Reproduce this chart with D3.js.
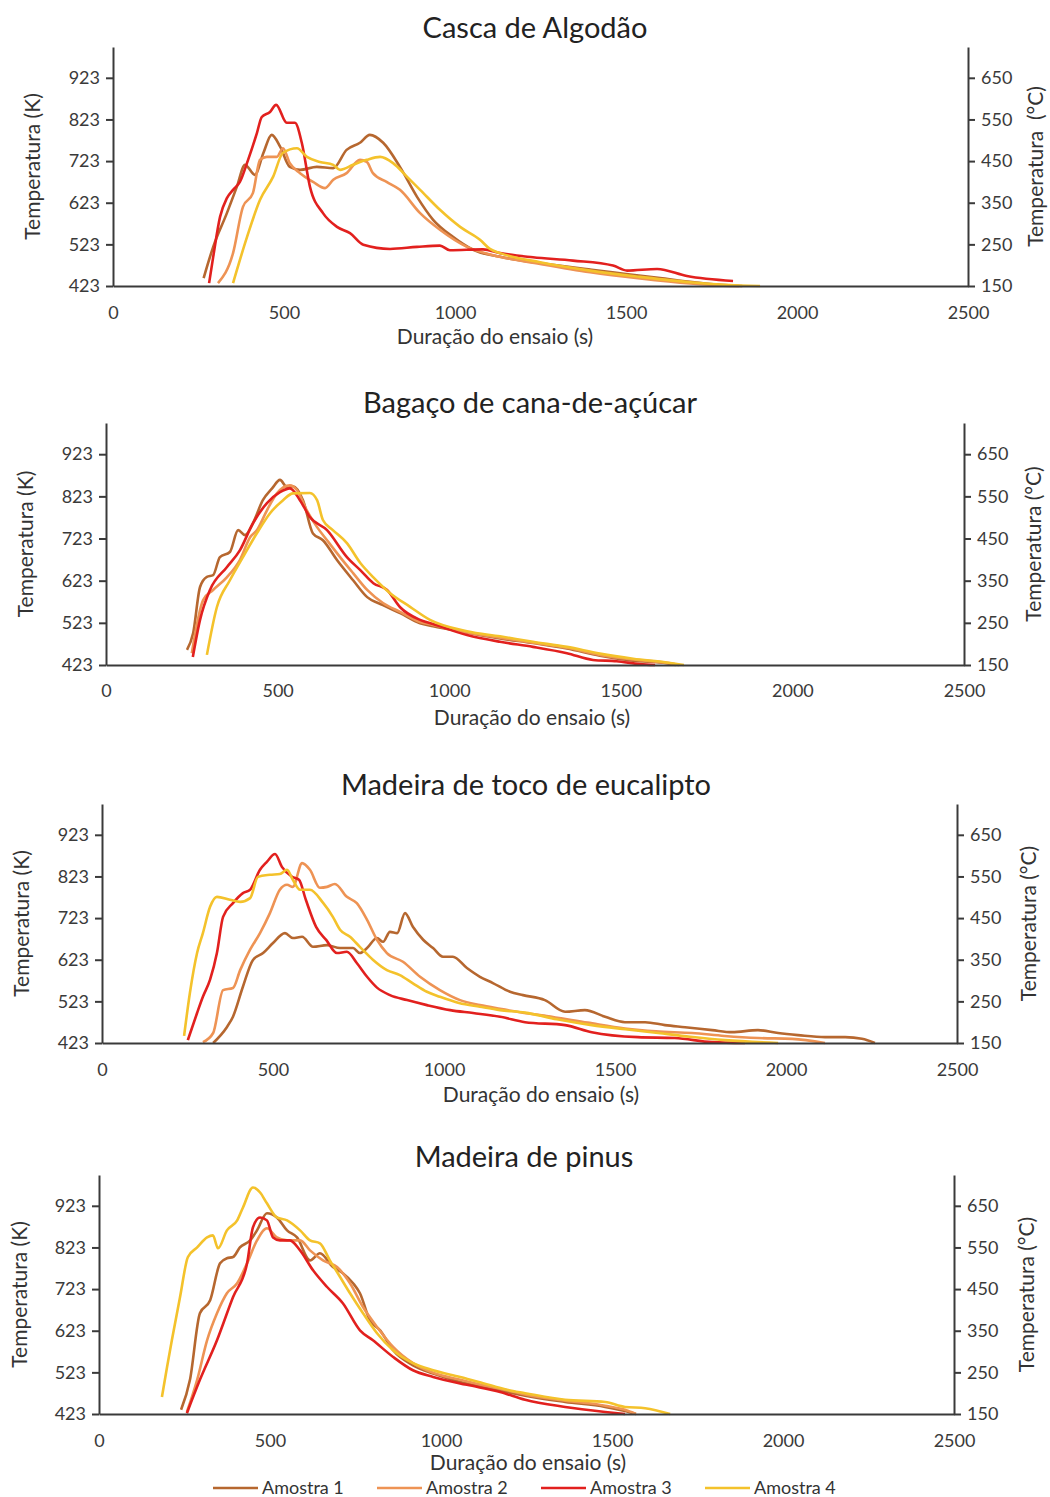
<!DOCTYPE html>
<html>
<head>
<meta charset="utf-8">
<script src="https://cdn.jsdelivr.net/npm/d3@7"></script>
<style>
  body { margin: 0; background: #fff; }
  svg { font-family: Lato, 'Open Sans', sans-serif; }
  .axis path, .axis line { stroke: #3a3a3a; stroke-width: 2; }
  .axis text { fill: #3a3a3a; font-size: 18px; font-family: Lato, sans-serif; }
</style>
</head>
<body>
<script>
// chart titles and tick values
var panelTitles = ['Casca de Algodão', 'Bagaço de cana-de-açúcar', 'Madeira de toco de eucalipto', 'Madeira de pinus'];
var xTicks = [0, 500, 1000, 1500, 2000, 2500];
var kTicks = [423, 523, 623, 723, 823, 923];
var cTicks = [150, 250, 350, 450, 550, 650];
var sampleNames = ['Amostra 1', 'Amostra 2', 'Amostra 3', 'Amostra 4'];

// [tempo (s), temperatura (K)]
var algodao1 = [[265,442],[293,517],[333,598],[362,661],[386,714],[415,690],[440,743],[464,786],[489,757],[517,709],[547,702],[596,709],[644,706],[683,750],[722,767],[751,786],[790,767],[839,709],[889,637],[936,582],[994,541],[1053,510],[1132,493],[1250,478],[1400,462],[1500,452],[1600,442],[1700,432],[1790,425],[1840,423]];
var algodao2 = [[307,430],[351,502],[380,613],[409,646],[430,726],[450,733],[479,733],[497,754],[517,718],[547,694],[585,673],[620,658],[644,678],[683,694],[722,726],[742,721],[760,694],[800,673],[839,654],[898,598],[956,558],[1035,517],[1111,497],[1249,476],[1395,456],[1541,441],[1687,429],[1784,424],[1830,423]];
var algodao3 = [[281,430],[293,493],[313,589],[333,634],[351,654],[371,673],[395,726],[421,791],[435,829],[459,841],[477,858],[508,815],[532,815],[552,767],[576,661],[614,598],[655,565],[693,550],[732,522],[810,512],[889,517],[956,520],[985,509],[1082,511],[1132,502],[1228,492],[1345,484],[1462,472],[1503,460],[1591,464],[1678,447],[1813,435]];
var algodao4 = [[351,430],[392,541],[430,630],[468,685],[497,743],[538,754],[567,733],[605,721],[644,714],[664,702],[702,714],[742,726],[781,733],[819,718],[860,685],[898,654],[956,606],[1015,565],[1073,534],[1102,512],[1132,502],[1249,480],[1395,460],[1541,445],[1687,432],[1784,426],[1892,423]];

var bagaco1 = [[236,459],[254,499],[274,608],[294,632],[312,636],[332,679],[361,691],[385,743],[405,731],[428,759],[457,814],[484,842],[507,862],[527,845],[545,847],[574,814],[603,735],[632,719],[673,672],[720,624],[761,584],[807,565],[857,546],[915,522],[953,515],[1052,500],[1148,486],[1244,475],[1343,462],[1439,445],[1536,433],[1634,427],[1660,423]];
var bagaco2 = [[250,451],[283,577],[312,601],[352,631],[390,672],[420,726],[440,743],[469,790],[498,830],[536,849],[556,838],[585,790],[615,750],[644,719],[682,679],[720,641],[761,601],[807,570],[857,549],[915,525],[953,518],[1052,500],[1148,488],[1244,476],[1343,464],[1439,447],[1536,436],[1634,428],[1670,423]];
var bagaco3 = [[253,442],[274,530],[303,601],[352,655],[390,695],[428,759],[469,807],[507,833],[536,842],[565,814],[594,774],[644,743],[702,679],[741,648],[779,617],[819,601],[857,560],[915,530],[953,520],[1052,494],[1148,478],[1244,466],[1343,451],[1419,435],[1488,432],[1556,425],[1600,423]];
var bagaco4 = [[294,447],[323,560],[361,624],[399,679],[440,736],[478,783],[516,814],[545,830],[594,831],[615,814],[632,767],[661,743],[702,712],[741,665],[779,631],[827,594],[886,561],[944,530],[1052,503],[1148,491],[1244,478],[1343,466],[1439,450],[1536,438],[1634,429],[1684,423]];

var eucalipto1 = [[325,423],[365,461],[383,486],[412,558],[441,622],[471,639],[500,663],[535,687],[558,675],[585,678],[617,654],[658,658],[696,651],[734,651],[754,639],[775,651],[804,675],[822,666],[842,690],[863,687],[886,735],[909,702],[939,671],[968,651],[997,630],[1026,630],[1067,603],[1105,582],[1143,567],[1193,546],[1231,538],[1295,526],[1354,498],[1412,502],[1471,486],[1529,473],[1588,473],[1646,466],[1705,461],[1784,454],[1842,449],[1918,454],[1977,447],[2035,442],[2114,437],[2173,437],[2222,433],[2260,423]];
var eucalipto2 = [[295,425],[325,447],[354,550],[383,555],[404,598],[433,647],[462,687],[491,735],[520,791],[541,803],[558,798],[585,855],[608,839],[637,796],[658,798],[681,805],[716,774],[745,759],[775,719],[804,671],[833,639],[880,618],[930,582],[988,550],[1047,526],[1105,514],[1164,505],[1222,497],[1300,488],[1420,472],[1529,458],[1620,451],[1725,447],[1820,440],[1918,435],[2018,433],[2114,423]];
var eucalipto3 = [[251,430],[278,495],[295,534],[316,575],[336,639],[354,726],[383,759],[412,783],[433,791],[462,839],[482,858],[506,877],[526,846],[556,822],[576,815],[596,767],[626,702],[656,670],[687,639],[716,642],[745,615],[775,582],[804,556],[842,538],[892,526],[950,514],[1018,502],[1085,495],[1164,486],[1237,473],[1354,466],[1432,449],[1567,437],[1675,435],[1784,425],[1880,423]];
var eucalipto4 = [[240,440],[257,543],[278,639],[295,687],[316,750],[336,774],[374,767],[404,762],[433,771],[456,822],[491,827],[520,829],[541,839],[558,815],[579,791],[608,791],[646,760],[675,726],[696,695],[725,678],[754,654],[792,623],[833,598],[871,586],[908,567],[950,546],[988,534],[1044,519],[1105,510],[1164,502],[1237,496],[1330,480],[1432,466],[1530,456],[1626,447],[1720,438],[1822,430],[1977,423]];

var pinus1 = [[240,433],[266,505],[295,665],[325,696],[354,785],[374,797],[392,800],[412,823],[442,840],[462,864],[491,905],[520,895],[550,864],[579,847],[617,792],[646,809],[684,776],[713,761],[743,737],[763,713],[792,648],[822,624],[860,576],[918,540],[977,520],[1056,500],[1123,488],[1193,476],[1246,467],[1363,452],[1480,440],[1538,430],[1570,423]];
var pinus2 = [[257,428],[287,505],[316,600],[345,665],[374,713],[404,737],[433,785],[462,840],[491,869],[520,847],[550,840],[588,840],[617,816],[655,792],[696,776],[734,737],[772,680],[813,632],[860,584],[918,545],[977,522],[1056,505],[1123,492],[1193,480],[1246,470],[1363,455],[1480,443],[1538,433],[1570,423]];
var pinus3 = [[257,425],[295,505],[345,600],[392,704],[433,785],[450,871],[471,895],[491,888],[509,847],[529,840],[558,840],[588,816],[626,768],[667,728],[713,689],[763,624],[801,600],[860,560],[918,528],[977,512],[1076,493],[1173,476],[1246,457],[1363,440],[1480,428],[1538,423]];
var pinus4 = [[184,464],[199,536],[213,600],[237,704],[260,800],[287,823],[316,847],[333,852],[348,821],[374,864],[404,888],[421,919],[450,967],[471,955],[491,929],[520,895],[550,888],[588,864],[617,840],[646,833],[675,792],[705,752],[734,713],[772,665],[813,617],[860,576],[918,545],[977,528],[1056,512],[1123,497],[1193,481],[1246,473],[1363,457],[1480,452],[1538,440],[1597,437],[1670,423]];

var panelSeries = [
  [algodao1, algodao2, algodao3, algodao4],
  [bagaco1, bagaco2, bagaco3, bagaco4],
  [eucalipto1, eucalipto2, eucalipto3, eucalipto4],
  [pinus1, pinus2, pinus3, pinus4]
];

var colors = ['#b6672f', '#ee9354', '#e2201e', '#f4c22b'];
var kMin = 423, kMax = 997, cOffset = 273;

// where each panel sits on the page
var layout = [
  {top: 47,   bottom: 286,  left: 113, right: 968, titleX: 535, titleY: 28,   tickY: 313,  xlabX: 495, xlabY: 337,  ylabX: 33, y2labX: 1036, y2lab: 'Temperatura  (°C)'},
  {top: 423,  bottom: 665,  left: 106, right: 964, titleX: 530, titleY: 403,  tickY: 691,  xlabX: 532, xlabY: 718,  ylabX: 26, y2labX: 1034, y2lab: 'Temperatura (°C)'},
  {top: 804,  bottom: 1043, left: 102, right: 957, titleX: 526, titleY: 785,  tickY: 1070, xlabX: 541, xlabY: 1095, ylabX: 22, y2labX: 1029, y2lab: 'Temperatura (°C)'},
  {top: 1175, bottom: 1414, left: 99,  right: 954, titleX: 524, titleY: 1157, tickY: 1441, xlabX: 528, xlabY: 1463, ylabX: 20, y2labX: 1027, y2lab: 'Temperatura (°C)'}
];

var w = 1050, h = 1497;

var svg = d3.select('body')
  .append('svg')
  .attr('width', w)
  .attr('height', h);

layout.forEach(function(L, p){
  var xScale = d3.scaleLinear().domain([0, 2500]).range([L.left, L.right]);
  var yScale = d3.scaleLinear().domain([kMin, kMax]).range([L.bottom, L.top]);
  var cScale = d3.scaleLinear().domain([kMin - cOffset, kMax - cOffset]).range([L.bottom, L.top]);

  var g = svg.append('g');

  g.append('text')
    .text(panelTitles[p])
    .attr('x', L.titleX)
    .attr('y', L.titleY)
    .attr('dy', '0.35em')
    .attr('text-anchor', 'middle')
    .attr('font-size', '29px')
    .attr('fill', '#222');

  var line = d3.line()
    .curve(d3.curveMonotoneX)
    .x(function(d){ return xScale(d[0]); })
    .y(function(d){ return yScale(d[1]); });

  g.selectAll('path.serie')
    .data(panelSeries[p])
    .enter()
    .append('path')
    .attr('class', 'serie')
    .attr('d', line)
    .attr('fill', 'none')
    .attr('stroke', function(d, i){ return colors[i]; })
    .attr('stroke-width', 2.6)
    .attr('stroke-linejoin', 'round');

  g.append('g')
    .attr('class', 'axis')
    .attr('transform', 'translate(0,' + L.bottom + ')')
    .call(d3.axisBottom(xScale).tickValues(xTicks).tickFormat(d3.format('d')).tickSize(0).tickSizeOuter(0))
    .call(function(a){
      a.selectAll('text').attr('y', L.tickY - L.bottom).attr('dy', '0.35em');
    });

  g.append('g')
    .attr('class', 'axis')
    .attr('transform', 'translate(' + L.left + ',0)')
    .call(d3.axisLeft(yScale).tickValues(kTicks).tickSize(7).tickSizeOuter(0).tickPadding(6));

  g.append('g')
    .attr('class', 'axis')
    .attr('transform', 'translate(' + L.right + ',0)')
    .call(d3.axisRight(cScale).tickValues(cTicks).tickSize(7).tickSizeOuter(0).tickPadding(6));

  g.append('text')
    .text('Duração do ensaio (s)')
    .attr('x', L.xlabX)
    .attr('y', L.xlabY)
    .attr('dy', '0.35em')
    .attr('text-anchor', 'middle')
    .attr('font-size', '21px')
    .attr('fill', '#333');

  var yMid = (L.top + L.bottom) / 2;
  g.append('text')
    .text('Temperatura (K)')
    .attr('transform', 'translate(' + L.ylabX + ',' + yMid + ') rotate(-90)')
    .attr('dy', '0.35em')
    .attr('text-anchor', 'middle')
    .attr('font-size', '21px')
    .attr('fill', '#333');

  g.append('text')
    .text(L.y2lab)
    .attr('xml:space', 'preserve')
    .style('white-space', 'pre')
    .attr('transform', 'translate(' + L.y2labX + ',' + yMid + ') rotate(-90)')
    .attr('dy', '0.35em')
    .attr('text-anchor', 'middle')
    .attr('font-size', '21px')
    .attr('fill', '#333');
});

// legend under the last panel
var legend = svg.selectAll('g.legend')
  .data(sampleNames)
  .enter()
  .append('g')
  .attr('class', 'legend')
  .attr('transform', function(d, i){ return 'translate(' + (213 + i * 164) + ',1488)'; });

legend.append('line')
  .attr('x1', 0).attr('x2', 45)
  .attr('y1', 0).attr('y2', 0)
  .attr('stroke', function(d, i){ return colors[i]; })
  .attr('stroke-width', 2.6);

legend.append('text')
  .text(function(d){ return d; })
  .attr('x', 49)
  .attr('dy', '0.35em')
  .attr('font-size', '18px')
  .attr('fill', '#333');
</script>
</body>
</html>
